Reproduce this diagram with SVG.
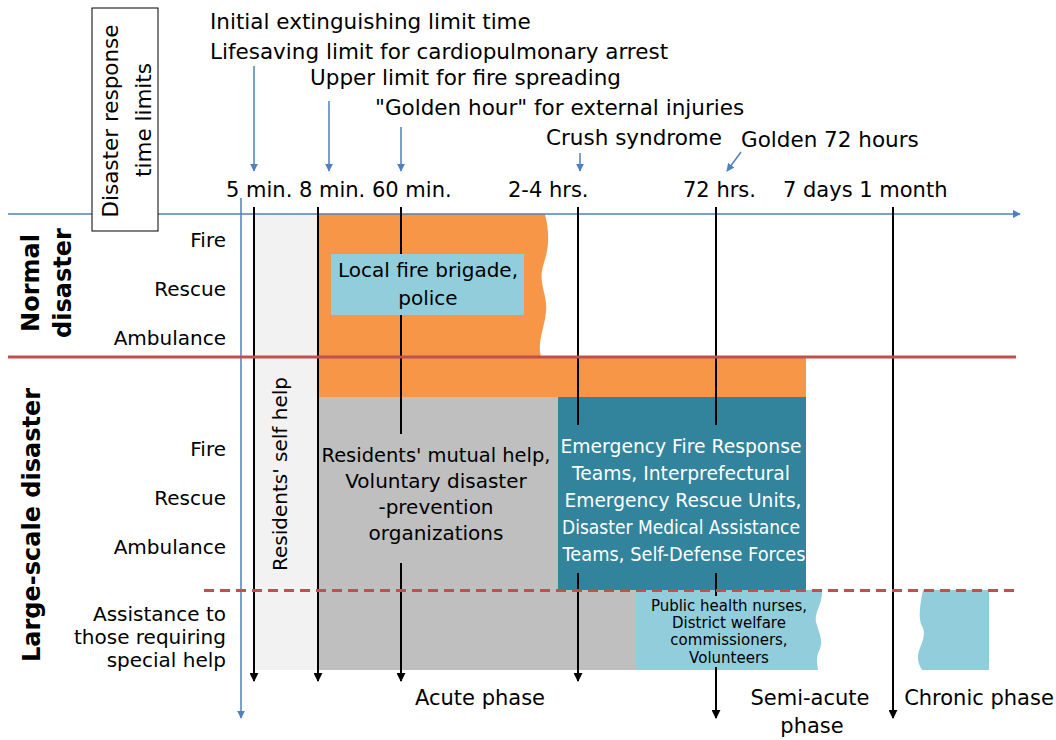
<svg xmlns="http://www.w3.org/2000/svg" width="1056" height="740" viewBox="0 0 1056 740">
<defs>
<style>
text{font-family:"DejaVu Sans",Verdana,sans-serif;fill:#000}
.h{font-size:21.5px}
.t{font-size:21px}
.r{font-size:20px;text-anchor:end}
.b{font-size:24px;font-weight:bold;text-anchor:middle}
.c{text-anchor:middle}
.w{fill:#fff}
.blue{stroke:#4f81bd;stroke-width:1.5;fill:none}
.tick{stroke:#000;stroke-width:2;fill:none}
</style>
<marker id="ab" viewBox="0 0 10 10" refX="9" refY="5" markerWidth="8" markerHeight="8" markerUnits="userSpaceOnUse" orient="auto"><path d="M0,0L10,5L0,10Z" fill="#4f81bd"/></marker>
<marker id="ak" viewBox="0 0 10 10" refX="9" refY="5" markerWidth="9" markerHeight="9" markerUnits="userSpaceOnUse" orient="auto"><path d="M0,0L10,5L0,10Z" fill="#000"/></marker>
</defs>
<rect width="1056" height="740" fill="#fff"/>

<g id="fills">
<rect x="254" y="214" width="64" height="456" fill="#f2f2f2"/>
<path d="M318,214H545C550,235 549,248 543,266C538,284 548,296 546,312C544,330 537,342 541,357H318Z" fill="#f79646"/>
<rect x="318" y="357" width="488" height="40" fill="#f79646"/>
<rect x="318" y="397" width="318" height="273" fill="#bfbfbf"/>
<rect x="558" y="397" width="248" height="193" fill="#31849b"/>
<path d="M636,590H822C823,604 814,612 816,622C819,633 824,641 819,651C815,660 818,666 818,670H636Z" fill="#92cddc"/>
<path d="M923,590H989V670H922C917,662 917,655 920,648C924,638 926,632 921,624C918,615 921,600 923,590Z" fill="#92cddc"/>
</g>

<g id="connectors">
<line class="blue" x1="8" y1="214" x2="1020" y2="214" marker-end="url(#ab)"/>
<line class="blue" x1="241" y1="198" x2="241" y2="718" marker-end="url(#ab)"/>
<line class="blue" x1="254" y1="66" x2="254" y2="171" marker-end="url(#ab)"/>
<line class="blue" x1="329" y1="101" x2="329" y2="171" marker-end="url(#ab)"/>
<line class="blue" x1="401" y1="127" x2="401" y2="171" marker-end="url(#ab)"/>
<line class="blue" x1="580" y1="153" x2="580" y2="171" marker-end="url(#ab)"/>
<line class="blue" x1="741" y1="152" x2="727" y2="171" marker-end="url(#ab)"/>
<line class="tick" x1="254" y1="207" x2="254" y2="681" marker-end="url(#ak)"/>
<line class="tick" x1="318" y1="207" x2="318" y2="681" marker-end="url(#ak)"/>
<line class="tick" x1="401" y1="207" x2="401" y2="434"/>
<line class="tick" x1="401" y1="563" x2="401" y2="681" marker-end="url(#ak)"/>
<line class="tick" x1="578" y1="207" x2="578" y2="425"/>
<line class="tick" x1="578" y1="573" x2="578" y2="681" marker-end="url(#ak)"/>
<line class="tick" x1="716" y1="207" x2="716" y2="425"/>
<line class="tick" x1="716" y1="573" x2="716" y2="596"/>
<line class="tick" x1="716" y1="667" x2="716" y2="718" marker-end="url(#ak)"/>
<line class="tick" x1="893" y1="207" x2="893" y2="718" marker-end="url(#ak)"/>
<line x1="8" y1="357" x2="1016" y2="357" stroke="#c0504d" stroke-width="3"/>
<line x1="204" y1="590.5" x2="1018" y2="590.5" stroke="#c0504d" stroke-width="3" stroke-dasharray="10,6"/>
</g>

<g id="title-box">
<rect x="92" y="8" width="66" height="223" fill="#fff" stroke="#000" stroke-width="1"/>
<text class="h c" transform="translate(118,121) rotate(-90)">Disaster response</text>
<text class="h c" transform="translate(151,120) rotate(-90)">time limits</text>
</g>

<g id="limit-labels">
<text class="h" x="210" y="29">Initial extinguishing limit time</text>
<text class="h" x="210" y="59">Lifesaving limit for cardiopulmonary arrest</text>
<text class="h" x="310" y="85">Upper limit for fire spreading</text>
<text class="h" x="375" y="115">"Golden hour" for external injuries</text>
<text class="h" x="546" y="145">Crush syndrome</text>
<text class="h" x="741" y="147">Golden 72 hours</text>
</g>

<g id="tick-labels">
<text class="t" x="226" y="197">5 min. 8 min. 60 min.</text>
<text class="t" x="508" y="197">2-4 hrs.</text>
<text class="t" x="683" y="197">72 hrs.</text>
<text class="t" x="783" y="197">7 days 1 month</text>
</g>

<g id="normal-disaster">
<text class="b" transform="translate(39,283) rotate(-90)">Normal</text>
<text class="b" transform="translate(71,283) rotate(-90)">disaster</text>
<text class="r" x="226" y="247">Fire</text>
<text class="r" x="226" y="296">Rescue</text>
<text class="r" x="226" y="345">Ambulance</text>
</g>

<g id="large-scale-disaster">
<text class="b" transform="translate(40,525) rotate(-90)">Large-scale disaster</text>
<text class="r" x="226" y="456">Fire</text>
<text class="r" x="226" y="505">Rescue</text>
<text class="r" x="226" y="554">Ambulance</text>
<text class="r" x="226" y="621">Assistance to</text>
<text class="r" x="226" y="644">those requiring</text>
<text class="r" x="226" y="667">special help</text>
</g>

<g id="self-help">
<text class="c" style="font-size:20px" transform="translate(287,474) rotate(-90)">Residents' self help</text>
</g>

<g id="local-fire-brigade">
<rect x="331" y="254" width="193" height="61" fill="#92cddc"/>
<text class="c" style="font-size:20px" x="428" y="277">Local fire brigade,</text>
<text class="c" style="font-size:20px" x="428" y="305">police</text>
</g>

<g id="mutual-help" style="font-size:20px">
<text class="c" x="436" y="462" textLength="229" lengthAdjust="spacingAndGlyphs">Residents' mutual help,</text>
<text class="c" x="436" y="488">Voluntary disaster</text>
<text class="c" x="436" y="514">-prevention</text>
<text class="c" x="436" y="540">organizations</text>
</g>

<g id="emergency-teams" style="font-size:18.6px">
<text class="c w" x="681" y="453" textLength="241" lengthAdjust="spacingAndGlyphs">Emergency Fire Response</text>
<text class="c w" x="681" y="480" textLength="218" lengthAdjust="spacingAndGlyphs">Teams, Interprefectural</text>
<text class="c w" x="683" y="507" textLength="237" lengthAdjust="spacingAndGlyphs">Emergency Rescue Units,</text>
<text class="c w" x="681" y="534" textLength="238" lengthAdjust="spacingAndGlyphs">Disaster Medical Assistance</text>
<text class="c w" x="684" y="561" textLength="243" lengthAdjust="spacingAndGlyphs">Teams, Self-Defense Forces</text>
</g>

<g id="special-help-support" style="font-size:15px">
<text class="c" x="729" y="611">Public health nurses,</text>
<text class="c" x="729" y="628">District welfare</text>
<text class="c" x="729" y="645">commissioners,</text>
<text class="c" x="729" y="663">Volunteers</text>
</g>

<g id="phases" style="font-size:21px">
<text class="c" x="480" y="705">Acute phase</text>
<text class="c" x="810" y="705">Semi-acute</text>
<text class="c" x="812" y="733">phase</text>
<text class="c" x="979" y="705">Chronic phase</text>
</g>
</svg>
